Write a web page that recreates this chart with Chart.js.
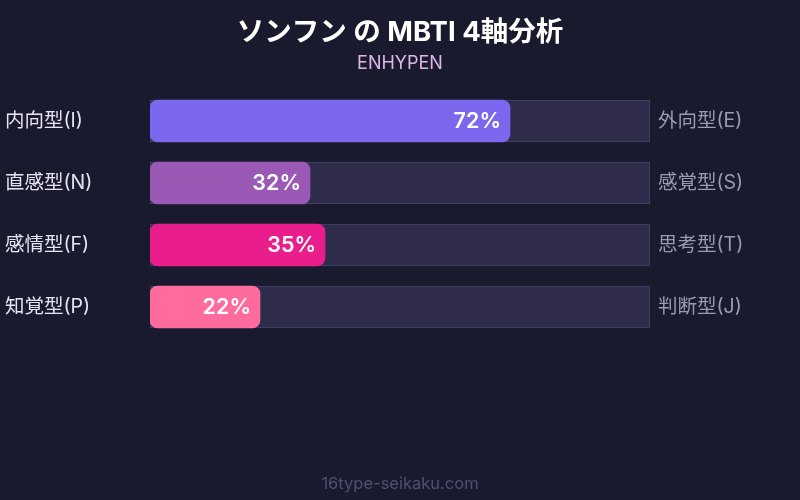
<!DOCTYPE html>
<html><head><meta charset="utf-8">
<script src="https://cdn.jsdelivr.net/npm/chart.js@4"></script>
<style>html,body{margin:0;padding:0;background:#1a1a2e;}#wrap{width:800px;height:500px;}</style>
</head><body><div id="wrap"><canvas id="c" width="800" height="500"></canvas></div>
<script>
const leftLabels = ['内向型(I)', '直感型(N)', '感情型(F)', '知覚型(P)'];
const rightLabels = ['外向型(E)', '感覚型(S)', '思考型(T)', '判断型(J)'];
const values = [72, 32, 35, 22];
const trackValues = [100, 100, 100, 100];
const barColors = ['#7b68ee', '#9b59b6', '#e91e8c', '#ff6b9d'];
const titleText = 'ソンフン の MBTI 4軸分析';
const subtitleText = 'ENHYPEN';
const footerText = '16type-seikaku.com';
const FONT = 'Inter, "Noto Sans CJK JP", sans-serif';

const overlay = {
  id: 'overlay',
  beforeDraw(chart) {
    const ctx = chart.ctx;
    ctx.save();
    ctx.fillStyle = '#1a1a2e';
    ctx.fillRect(0, 0, chart.width, chart.height);
    ctx.restore();
  },
  afterDraw(chart) {
    const ctx = chart.ctx;
    ctx.save();
    ctx.textAlign = 'center';
    ctx.textBaseline = 'middle';
    ctx.fillStyle = '#ffffff';
    ctx.font = 'bold 27.5px ' + FONT;
    ctx.fillText(titleText, 400, 33);
    ctx.fillStyle = '#dcb8e6';
    ctx.font = '18px ' + FONT;
    ctx.fillText(subtitleText, 400, 64);
    ctx.fillStyle = '#4f5070';
    ctx.font = '16.5px ' + FONT;
    ctx.fillText(footerText, 400, 484);
    const meta = chart.getDatasetMeta(0);
    ctx.fillStyle = '#ffffff';
    ctx.font = '600 21.5px ' + FONT;
    ctx.textAlign = 'right';
    meta.data.forEach((el, i) => {
      ctx.fillText(values[i] + '%', el.x - 9, el.y + 1);
    });
    ctx.restore();
  }
};

new Chart(document.getElementById('c'), {
  type: 'bar',
  data: {
    labels: leftLabels,
    datasets: [
      {
        data: values,
        backgroundColor: barColors,
        borderWidth: 0,
        borderRadius: 8,
        borderSkipped: false,
        barThickness: 42,
        grouped: false,
        order: 0
      },
      {
        data: trackValues,
        backgroundColor: '#2e2c4a',
        borderColor: '#45456a',
        borderWidth: 1,
        borderRadius: 0,
        borderSkipped: false,
        barThickness: 42,
        grouped: false,
        order: 1
      }
    ]
  },
  options: {
    indexAxis: 'y',
    responsive: false,
    animation: false,
    layout: { padding: { left: 5, right: 0, top: 90, bottom: 162 } },
    plugins: { legend: { display: false }, tooltip: { enabled: false }, title: { display: false } },
    scales: {
      x: { min: 0, max: 100, display: false },
      y: {
        position: 'left',
        grid: { display: false, drawTicks: false },
        border: { display: false },
        ticks: { color: '#e4e4f2', font: { family: FONT, size: 19.5 }, crossAlign: 'far', padding: 0 },
        afterFit(s) { s.width = 145; }
      },
      y2: {
        type: 'category',
        labels: rightLabels,
        position: 'right',
        grid: { display: false, drawTicks: false },
        border: { display: false },
        ticks: { color: '#9a9ab2', font: { family: FONT, size: 19.5 }, crossAlign: 'near', padding: 8 },
        afterFit(s) { s.width = 150; }
      }
    }
  },
  plugins: [overlay]
});
</script></body></html>
